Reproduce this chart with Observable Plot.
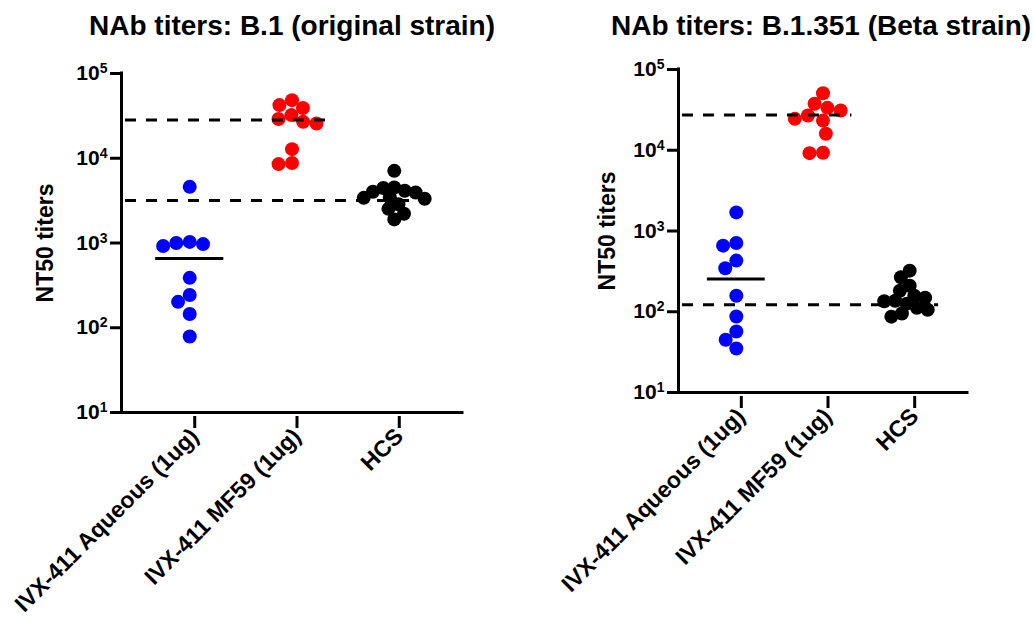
<!DOCTYPE html>
<html>
<head>
<meta charset="utf-8">
<script src="https://cdn.jsdelivr.net/npm/d3@7"></script>
<script src="https://cdn.jsdelivr.net/npm/@observablehq/plot@0.6"></script>
<style>
  html, body { margin: 0; padding: 0; background: #fff; }
  #wrap { position: relative; width: 1033px; height: 622px; overflow: hidden; }
  #wrap svg { position: absolute; top: 0; }
</style>
</head>
<body>
<div id="wrap"></div>
<script>
// ---- categories / labels ----
const groups = ["IVX-411 Aqueous (1ug)", "IVX-411 MF59 (1ug)", "HCS"];
const groupColors = ["#0000ff", "#ff0000", "#000000"];
const yTicks = [10, 100, 1000, 10000, 100000];
const yTickBase = "10";
const yTickExponents = ["1", "2", "3", "4", "5"];
const yLabel = "NT50 titers";
const titleB1 = "NAb titers: B.1 (original strain)";
const titleB1351 = "NAb titers: B.1.351 (Beta strain)";

// ---- B.1 (original strain) ----
const b1Aqueous = [4600, 970, 1000, 920, 1030, 388, 243, 202, 145, 79];
const b1MF59 = [48500, 42400, 39100, 32300, 26900, 29000, 25700, 12800, 8530, 8800];
const b1HCS = [7100, 4520, 4450, 4130, 4020, 3950, 3440, 3330, 3410, 2860, 2530, 2210, 1900];
const b1AqueousMean = 656;
const b1MF59Ref = 28200;
const b1HCSRef = 3180;

// ---- B.1.351 (Beta strain) ----
const b1351Aqueous = [1700, 711, 659, 430, 345, 158, 87.5, 57, 45, 35];
const b1351MF59 = [50800, 37600, 33500, 31000, 26900, 24500, 23300, 16000, 9300, 9200];
const b1351HCS = [323, 267, 210, 182, 158, 149, 137, 135, 126, 112, 106, 95, 87];
const b1351AqueousMean = 254;
const b1351MF59Ref = 27400;
const b1351HCSRef = 122;

const PAD = 0.667;      // point-scale padding (in category steps)
const R = 7;            // dot radius
const SPACING = [13.5, 13.5, 11];  // swarm spacing per group (px)
const FONT = "'Liberation Sans', Arial, Helvetica, sans-serif";

// simple beeswarm: returns horizontal offsets (in category units)
function swarm(vals, diam, stepPx, decPx) {
  const order = vals.map((v, i) => i).sort((a, b) => vals[b] - vals[a]);
  const placed = [];
  const off = new Array(vals.length).fill(0);
  for (const i of order) {
    const py = Math.log10(vals[i]) * decPx;
    const cands = [0];
    for (const p of placed) {
      const dy = py - p.y;
      if (Math.abs(dy) < diam) {
        const dx = Math.sqrt(diam * diam - dy * dy);
        cands.push(p.x + dx, p.x - dx);
      }
    }
    cands.sort((a, b) => Math.abs(a) - Math.abs(b) || a - b);
    for (const c of cands) {
      if (placed.every(p => (p.x - c) ** 2 + (p.y - py) ** 2 >= diam * diam - 1e-6)) {
        placed.push({x: c, y: py});
        off[i] = c / stepPx;
        break;
      }
    }
  }
  return off;
}

function panel(cfg) {
  const frameW = cfg.width - cfg.marginLeft - cfg.marginRight;
  const frameH = 622 - cfg.marginTop - cfg.marginBottom;
  const stepPx = frameW / (2 + 2 * PAD);
  const decPx = frameH / 4;
  const dotMarks = cfg.series.map((vals, g) => {
    const off = swarm(vals, SPACING[g], stepPx, decPx);
    const rows = vals.map((v, i) => ({x: g + off[i], v}));
    return Plot.dot(rows, {x: "x", y: "v", r: R, fill: groupColors[g], stroke: "none"});
  });
  const svg = Plot.plot({
    width: cfg.width,
    height: 622,
    marginLeft: cfg.marginLeft,
    marginRight: cfg.marginRight,
    marginTop: cfg.marginTop,
    marginBottom: cfg.marginBottom,
    style: {fontFamily: FONT, fontWeight: "bold", color: "#000", background: "transparent", overflow: "visible"},
    x: {type: "linear", domain: [-PAD, 2 + PAD]},
    y: {type: "log", domain: [10, 100000]},
    marks: [
      ...dotMarks,
      Plot.ruleY([cfg.mean], {x1: -1 / 3, x2: 1 / 3, stroke: "#000", strokeWidth: 3}),
      Plot.ruleY([cfg.ref1], {x1: -PAD, x2: 1 + 1 / 3, stroke: "#000", strokeWidth: 3, strokeDasharray: "11,10", strokeDashoffset: 17}),
      Plot.ruleY([cfg.ref2], {x1: -PAD, x2: 2 + 1 / 3, stroke: "#000", strokeWidth: 3, strokeDasharray: "11,10", strokeDashoffset: 17}),
      Plot.ruleX([-PAD], {y1: 10, y2: 100000, stroke: "#000", strokeWidth: 3, strokeLinecap: "square"}),
      Plot.ruleY([10], {x1: -PAD, x2: 2 + PAD, stroke: "#000", strokeWidth: 3, strokeLinecap: "square"}),
      Plot.axisY({ticks: yTicks, tickFormat: d => yTickBase + "^" + yTickExponents[yTicks.indexOf(d)], tickSize: 11, tickPadding: 3,
        fontSize: 21, strokeWidth: 3, label: null}),
      Plot.axisX({ticks: [0, 1, 2], tickFormat: i => groups[i], tickSize: 12, tickPadding: 4, tickRotate: -45,
        fontSize: 23, strokeWidth: 3, label: null, dx: 5, dy: 4}),
      Plot.text([yLabel], {frameAnchor: "left", dx: cfg.yLabelDx, rotate: -90, fontSize: 23, fontWeight: "bold",
        textAnchor: "middle", lineAnchor: "middle"}),
      Plot.text([cfg.title], {frameAnchor: "top", dx: cfg.titleDx, dy: -cfg.marginTop + 26, fontSize: 28, fontWeight: "bold",
        textAnchor: "middle", lineAnchor: "middle"})
    ]
  });
  // render y tick labels as 10 with a superscript exponent
  svg.querySelectorAll("text").forEach(t => {
    const s = t.textContent;
    if (/^10\^\d$/.test(s)) {
      const [base, exp] = s.split("^");
      t.textContent = "";
      const ns = "http://www.w3.org/2000/svg";
      const b = document.createElementNS(ns, "tspan");
      b.textContent = base;
      const e = document.createElementNS(ns, "tspan");
      e.textContent = exp;
      e.setAttribute("font-size", "14");
      e.setAttribute("dy", "-7");
      t.appendChild(b);
      t.appendChild(e);
    }
  });
  return svg;
}

const wrap = document.getElementById("wrap");

const left = panel({
  width: 520, marginLeft: 121, marginRight: 58, marginTop: 73, marginBottom: 210,
  series: [b1Aqueous, b1MF59, b1HCS], mean: b1AqueousMean, ref1: b1MF59Ref, ref2: b1HCSRef,
  title: titleB1, titleDx: 0, yLabelDx: -76
});
left.style.left = "0px";
wrap.appendChild(left);

const right = panel({
  width: 513, marginLeft: 158, marginRight: 66, marginTop: 69, marginBottom: 230,
  series: [b1351Aqueous, b1351MF59, b1351HCS], mean: b1351AqueousMean, ref1: b1351MF59Ref, ref2: b1351HCSRef,
  title: titleB1351, titleDx: -2, yLabelDx: -71
});
right.style.left = "520px";
wrap.appendChild(right);
</script>
</body>
</html>
